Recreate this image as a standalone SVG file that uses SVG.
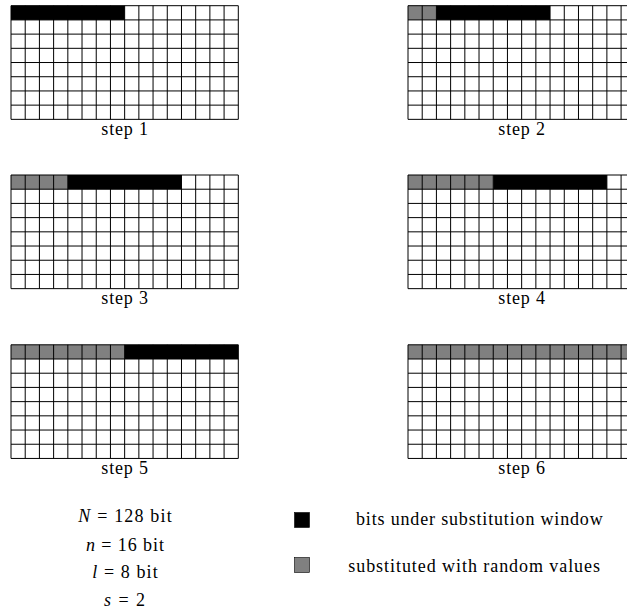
<svg xmlns="http://www.w3.org/2000/svg" xmlns:xlink="http://www.w3.org/1999/xlink" width="627" height="614" viewBox="0 0 627 614">
<style>
.lbl{font-family:"Liberation Serif","Times New Roman",serif;font-size:18px;fill:#000}
.mid{text-anchor:middle}
.it{font-style:italic}
.blk{fill:#000}
.gry{fill:#808080}
.grid{fill:none;stroke:#000;stroke-width:1}
</style>
<defs>
<path id="gl" class="grid" d="M0 0V113.65M14.21 0V113.65M28.41 0V113.65M42.62 0V113.65M56.83 0V113.65M71.03 0V113.65M85.24 0V113.65M99.44 0V113.65M113.65 0V113.65M127.86 0V113.65M142.06 0V113.65M156.27 0V113.65M170.48 0V113.65M184.68 0V113.65M198.89 0V113.65M213.09 0V113.65M227.3 0V113.65M0 0H227.3M0 14.21H227.3M0 28.41H227.3M0 42.62H227.3M0 56.83H227.3M0 71.03H227.3M0 85.24H227.3M0 99.44H227.3M0 113.65H227.3"/>
</defs>
<g id="step1" transform="translate(11,5.7)">
<rect class="blk" x="0" y="0" width="113.65" height="14.21"/>
<use xlink:href="#gl"/>
<text class="lbl mid" x="113.65" y="129" textLength="46.7">step 1</text>
</g>
<g id="step2" transform="translate(408,5.7)">
<rect class="gry" x="0" y="0" width="28.41" height="14.21"/>
<rect class="blk" x="28.41" y="0" width="113.65" height="14.21"/>
<use xlink:href="#gl"/>
<text class="lbl mid" x="113.65" y="129" textLength="46.7">step 2</text>
</g>
<g id="step3" transform="translate(11,175)">
<rect class="gry" x="0" y="0" width="56.83" height="14.21"/>
<rect class="blk" x="56.83" y="0" width="113.65" height="14.21"/>
<use xlink:href="#gl"/>
<text class="lbl mid" x="113.65" y="129" textLength="46.7">step 3</text>
</g>
<g id="step4" transform="translate(408,175)">
<rect class="gry" x="0" y="0" width="85.24" height="14.21"/>
<rect class="blk" x="85.24" y="0" width="113.65" height="14.21"/>
<use xlink:href="#gl"/>
<text class="lbl mid" x="113.65" y="129" textLength="46.7">step 4</text>
</g>
<g id="step5" transform="translate(11,344.8)">
<rect class="gry" x="0" y="0" width="113.65" height="14.21"/>
<rect class="blk" x="113.65" y="0" width="113.65" height="14.21"/>
<use xlink:href="#gl"/>
<text class="lbl mid" x="113.65" y="129" textLength="46.7">step 5</text>
</g>
<g id="step6" transform="translate(408,344.8)">
<rect class="gry" x="0" y="0" width="227.3" height="14.21"/>
<use xlink:href="#gl"/>
<text class="lbl mid" x="113.65" y="129" textLength="46.7">step 6</text>
</g>
<g id="params">
<text class="lbl mid" x="125" y="521.5" textLength="93.4"><tspan class="it">N</tspan> = 128 bit</text>
<text class="lbl mid" x="125" y="550.5" textLength="78"><tspan class="it">n</tspan> = 16 bit</text>
<text class="lbl mid" x="125" y="577.5" textLength="65.4"><tspan class="it">l</tspan> = 8 bit</text>
<text class="lbl mid" x="124.5" y="606" textLength="41"><tspan class="it">s</tspan> = 2</text>
</g>
<g id="legend">
<rect class="blk" x="294.5" y="512.5" width="15" height="15" stroke="#000" stroke-width="0.6"/>
<text class="lbl" x="356" y="525" textLength="246.7">bits under substitution window</text>
<rect class="gry" x="294.5" y="557.5" width="15" height="15" stroke="#000" stroke-width="0.6"/>
<text class="lbl" x="348.3" y="571.5" textLength="251.7">substituted with random values</text>
</g>
<g id="connectors"/>
</svg>
